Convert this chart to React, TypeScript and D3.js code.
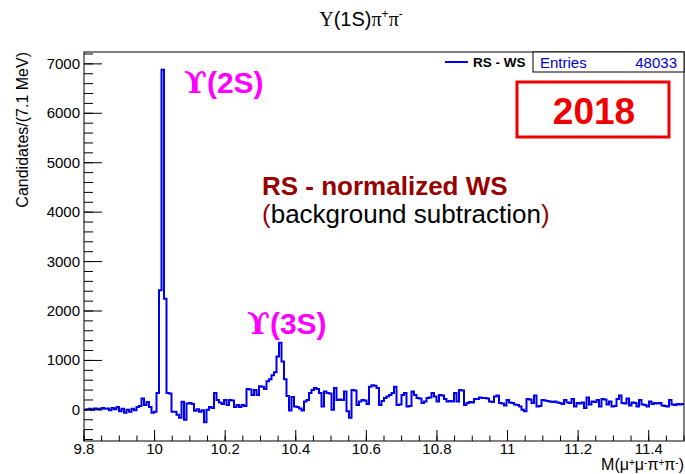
import React from "react";
import * as d3 from "d3";

const xMin = 9.8;
const xMaxVal = 11.5;
const counts: number[] = [
  0,
  10, 20, 0, 30, 20, 10, 40, 20, 30, -10, 40, 10, 60, -30, 20, -60, 0, -40, 20, -10, 60, 80,
  230, 100, 160, 60, -60, -40, 340, 2420, 6880, 2250, 340, 330,
  -40, -40, -100, -160, 165, -200, 130, 140, 120, -20, 10, -40, -10, -250, 0, 60, 40,
  340, 200, 150, 120, 200, 100, 200, 190, 60, 100, 60, 100, 80,
  420, 410, 300, 400, 300, 480, 470, 420, 580, 620, 700, 760, 1080, 1360, 980, 620, 280,
  -15, 260, 70, 60, 30, -15, 170, 200, 340, 400, 440, 420, 340, 70, 370, 340, 330, 0, 440,
  200, 210, 200, 370, -30, -160, 400, 390, 100, 170, 200, 190, 120, 470, 500, 490, 440, 100,
  180,
  240, 270, 300, 340, 470, 100, 110, 300, 340, 70, 80, 370, 300, 240, 230, 140, 170, 240, 250,
  340, 270, 170, 300, 290, 220, 170, 180, 170, 340, 170, 400, 390, 100, 140,
  160, 150, 220, 220, 250, 240, 240, 230, 170, 160, 270, 290, 140, 130, 90, 200, 150, 140, 110, 100,
  70, 0, -30, 220, 210, 140, 290, 70, 80, 200, 190, 180, 170, 160, 170, 150, 140, 120, 200, 150,
  140, 220, 70, 140, 130,
  150,
  40, 250, 110, 170, 160, 200, 70, 220, 210, 110, 170, 70, 80, 220, 290,
  140, 130, 230, 90, 150, 140, 70, 200, 110, 100, 70, 170, 120, 140, 130, 140, 90, 80, 70, 200,
  110, 100, 120, 110, 120,
];
const yDomain = [-630, 7240];
const xMajorTicks = [9.8, 10, 10.2, 10.4, 10.6, 10.8, 11, 11.2, 11.4];
const xTickLabels = ["9.8", "10", "10.2", "10.4", "10.6", "10.8", "11", "11.2", "11.4"];
const yMajorTicks = [0, 1000, 2000, 3000, 4000, 5000, 6000, 7000];
const entries = "48033";
const legendLabel = "RS - WS";
const yearLabel = "2018";

export default function App() {
  const W = 685, H = 474;
  const L = 84, R = 684, T = 52, B = 441;
  const binWidth = (xMaxVal - xMin) / counts.length;
  const x = d3.scaleLinear().domain([xMin, xMaxVal]).range([L, R]);
  const y = d3.scaleLinear().domain(yDomain).range([B, T]);

  const pts: [number, number][] = counts.map((c, i) => [xMin + i * binWidth, c]);
  pts.push([xMaxVal, counts[counts.length - 1]]);
  const line = d3
    .line<[number, number]>()
    .x((d) => x(d[0]))
    .y((d) => y(d[1]))
    .curve(d3.curveStepAfter);

  const xMinor: number[] = [];
  for (let k = 0; k <= 34; k++) xMinor.push(xMin + k * 0.05);
  const yMinor: number[] = [];
  for (let v = -600; v <= 7200; v += 200) yMinor.push(v);

  const font = "'Liberation Sans', Arial, sans-serif";
  const serif = "'Liberation Serif', serif";
  const blue = "#0000ee";

  return (
    <svg width={W} height={H} style={{ position: "absolute", left: 0, top: 0, background: "#fff" }}>
      <rect x={0} y={0} width={W} height={H} fill="#fff" />
      {/* title */}
      <text x={361} y={26} textAnchor="middle" fontFamily={font} fontSize={20}>
        <tspan fontFamily={serif}>Υ</tspan>(1S)
        <tspan fontFamily={serif}>π</tspan>
        <tspan fontSize={12} dy={-8}>+</tspan>
        <tspan fontFamily={serif} dy={8}>π</tspan>
        <tspan fontSize={12} dy={-8}>-</tspan>
      </text>

      {/* histogram */}
      <clipPath id="clip">
        <rect x={L} y={T} width={R - L} height={B - T} />
      </clipPath>
      <path d={line(pts) || ""} fill="none" stroke={blue} strokeWidth={2} clipPath="url(#clip)" />

      {/* frame */}
      <rect x={L} y={T} width={R - L} height={B - T} fill="none" stroke="#000" strokeWidth={1} />

      {/* x ticks */}
      {xMinor.map((v, i) => (
        <line key={"xm" + i} x1={x(v)} x2={x(v)} y1={B} y2={B - 5.5} stroke="#000" />
      ))}
      {xMajorTicks.map((v, i) => (
        <g key={"xM" + i}>
          <line x1={x(v)} x2={x(v)} y1={B} y2={B - 11} stroke="#000" />
          <text x={x(v)} y={454} textAnchor="middle" fontFamily={font} fontSize={15}>
            {xTickLabels[i]}
          </text>
        </g>
      ))}
      {/* y ticks */}
      {yMinor.map((v, i) => (
        <line key={"ym" + i} x1={L} x2={L + 9} y1={y(v)} y2={y(v)} stroke="#000" />
      ))}
      {yMajorTicks.map((v, i) => (
        <g key={"yM" + i}>
          <line x1={L} x2={L + 18} y1={y(v)} y2={y(v)} stroke="#000" />
          <text x={80} y={y(v) + 5} textAnchor="end" fontFamily={font} fontSize={15}>
            {String(v)}
          </text>
        </g>
      ))}

      {/* axis titles */}
      <text
        transform={`translate(28,${T}) rotate(-90)`}
        textAnchor="end"
        fontFamily={font}
        fontSize={16}
      >
        Candidates/(7.1 MeV)
      </text>
      <text x={R} y={470} textAnchor="end" fontFamily={font} fontSize={16}>
        M(μ<tspan fontSize={10} dy={-4}>+</tspan>
        <tspan dy={4}>μ</tspan>
        <tspan fontSize={10} dy={-4}>-</tspan>
        <tspan dy={4}>π</tspan>
        <tspan fontSize={10} dy={-4}>+</tspan>
        <tspan dy={4}>π</tspan>
        <tspan fontSize={10} dy={-4}>-</tspan>
        <tspan dy={4}>)</tspan>
      </text>

      {/* legend */}
      <line x1={445} x2={468} y1={62} y2={62} stroke={blue} strokeWidth={2} />
      <text x={473} y={67} fontFamily={font} fontSize={13.5} fontWeight="bold">
        {legendLabel}
      </text>
      <rect x={533} y={T} width={R - 533} height={20} fill="#fff" stroke="#000" strokeWidth={1} />
      <text x={540} y={68} fontFamily={font} fontSize={15} fill="#0000cc">Entries</text>
      <text x={677} y={68} textAnchor="end" fontFamily={font} fontSize={15} fill="#0000cc">
        {entries}
      </text>

      {/* year box */}
      <rect x={517} y={82} width={152} height={55} fill="none" stroke="#ee0000" strokeWidth={3} />
      <text x={594} y={124} textAnchor="middle" fontFamily={font} fontSize={37} fontWeight="bold" fill="#ee0000">
        {yearLabel}
      </text>

      {/* annotations */}
      <text x={184} y={93} fontFamily={font} fontSize={30} fontWeight="bold" fill="#ff00ff">
        <tspan fontFamily="'DejaVu Serif', serif">ϒ</tspan>(2S)
      </text>
      <text x={247} y={334} fontFamily={font} fontSize={30} fontWeight="bold" fill="#ff00ff">
        <tspan fontFamily="'DejaVu Serif', serif">ϒ</tspan>(3S)
      </text>
      <text x={262} y={195} fontFamily={font} fontSize={26} fontWeight="bold" fill="#990000">
        RS - normalized WS
      </text>
      <text x={262} y={223} fontFamily={font} fontSize={26} fill="#000">
        <tspan fill="#990000">(</tspan>background subtraction<tspan fill="#990000">)</tspan>
      </text>
    </svg>
  );
}
